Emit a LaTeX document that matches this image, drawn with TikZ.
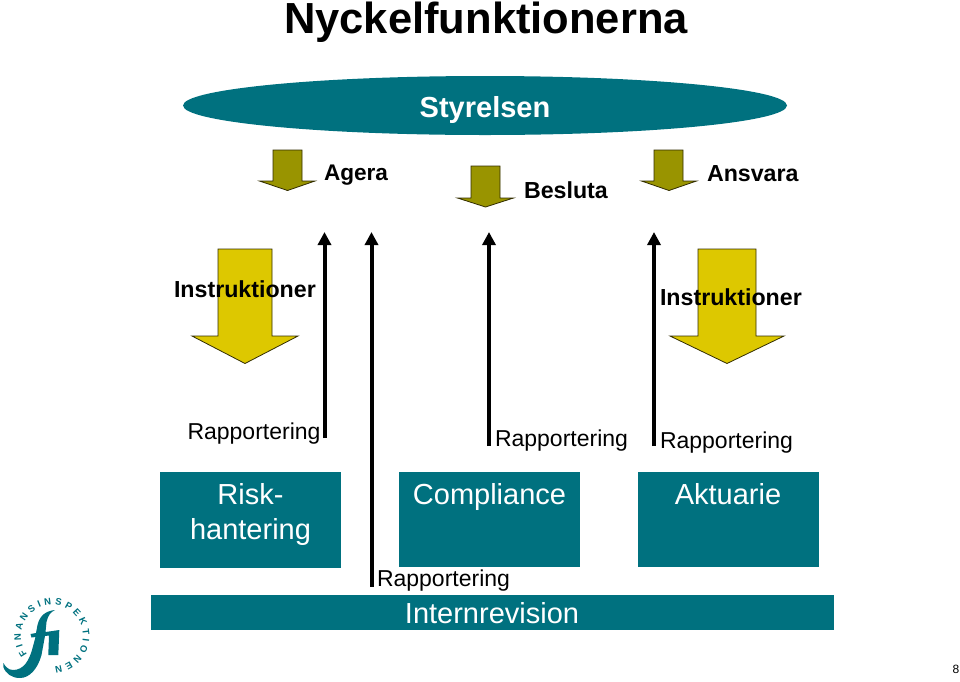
\documentclass[tikz,border=0pt]{standalone}
\usepackage{fontspec}
\setmainfont{Liberation Sans}
\usetikzlibrary{arrows.meta,shapes.geometric,decorations.text}
\definecolor{tealbox}{RGB}{0,113,127}
\definecolor{olivearrow}{RGB}{153,148,0}
\definecolor{yellowarrow}{RGB}{221,200,0}
\definecolor{arrowline}{RGB}{50,45,0}
\tikzset{
  x=1pt,y=-1pt,
  every node/.style={inner sep=0pt,outer sep=0pt},
  txt/.style={anchor=base west,text=black},
  headtxt/.style={txt,font=\fontsize{23.2}{24}\selectfont\bfseries},
  reptxt/.style={txt,font=\fontsize{23}{24}\selectfont},
  boxtxt/.style={anchor=base,text=white,font=\fontsize{29}{30}\selectfont},
  tealrect/.style={fill=tealbox,draw=none},
  oliveblock/.style={fill=olivearrow,draw=arrowline,line width=0.8pt,line join=miter},
  yellowblock/.style={fill=yellowarrow,draw=arrowline,line width=0.8pt,line join=miter},
  reportline/.style={draw=black,line width=4pt,-{Triangle[width=13pt,length=13pt]}},
}
\begin{document}
\begin{tikzpicture}
\useasboundingbox (0,0) rectangle (960,681);
% title and board
\node[anchor=base,font=\fontsize{43.5}{44}\selectfont\bfseries] (title) at (486,33) {Nyckelfunktionerna};
\node[ellipse,fill=tealbox,minimum width=604pt,minimum height=59pt] (board) at (485,105.5) {};
\node[anchor=base,text=white,font=\fontsize{29}{29}\selectfont\bfseries] (boardtxt) at (485,117) {Styrelsen};
% olive arrows
\path[oliveblock] (273,150) -- (302,150) -- (302,181) -- (315,181) -- (287.5,190.5) -- (259.5,181) -- (273,181) -- cycle;
\path[oliveblock] (471,166) -- (500,166) -- (500,198) -- (513.5,198) -- (485.5,207) -- (457.5,198) -- (471,198) -- cycle;
\path[oliveblock] (654,150) -- (683,150) -- (683,181) -- (696.5,181) -- (669,190.5) -- (641.5,181) -- (654,181) -- cycle;
% yellow arrows
\path[yellowblock] (218,249) -- (272,249) -- (272,336) -- (298,336) -- (245,363.5) -- (192,336) -- (218,336) -- cycle;
\path[yellowblock] (698,249) -- (756,249) -- (756,336) -- (784,336) -- (727,363.5) -- (670,336) -- (698,336) -- cycle;
% boxes
\node[tealrect,minimum width=181pt,minimum height=96.5pt] (risk) at (250.5,519.75) {};
\node[tealrect,minimum width=181pt,minimum height=95.5pt] (comp) at (489.5,519.25) {};
\node[tealrect,minimum width=181.5pt,minimum height=95.5pt] (akt) at (728.25,519.25) {};
\node[tealrect,minimum width=683.5pt,minimum height=35pt] (rev) at (492.25,612.5) {};
\node[boxtxt] (risk1) at (250.5,504) {Risk-};
\node[boxtxt] (risk2) at (250.5,539) {hantering};
\node[boxtxt] (comptxt) at (489.5,504) {Compliance};
\node[boxtxt] (akttxt) at (728,504) {Aktuarie};
\node[boxtxt] (revtxt) at (492,623) {Internrevision};
% reporting lines
\coordinate (l1b) at (324.5,438);
\coordinate (l1t) at (324.5,232);
\coordinate (l2b) at (371.5,586.5);
\coordinate (l2t) at (371.5,232);
\coordinate (l3b) at (489,446);
\coordinate (l3t) at (489,232);
\coordinate (l4b) at (654,446);
\coordinate (l4t) at (654,232);
\draw[reportline] (l1b) -- (l1t);
\draw[reportline] (l2b) -- (l2t);
\draw[reportline] (l3b) -- (l3t);
\draw[reportline] (l4b) -- (l4t);
% labels
\node[headtxt,font=\fontsize{22.6}{24}\selectfont\bfseries] (agera) at (324,180) {Agera};
\node[headtxt] (besluta) at (524,198) {Besluta};
\node[headtxt] (ansvara) at (707,181) {Ansvara};
\node[headtxt] (instrl) at (174,297) {Instruktioner};
\node[headtxt] (instrr) at (660,305) {Instruktioner};
\node[reptxt] (rep1) at (187.5,439) {Rapportering};
\node[reptxt] (rep2) at (495,446) {Rapportering};
\node[reptxt] (rep3) at (660,448) {Rapportering};
\node[reptxt] (rep4) at (377,586) {Rapportering};
\node[anchor=base,font=\fontsize{12}{12}\selectfont] (pageno) at (956,673) {8};
% logo
\path[fill=tealbox] (55,610) .. controls (46,611) and (40,615) .. (37.5,625) -- (36,633)
  -- (30.5,634) -- (31.5,637.5) -- (35.5,637)
  -- (32,650) .. controls (29,660) and (24,670) .. (13,670)
  .. controls (8,670) and (5,666) .. (3.5,663) -- (3.3,667)
  .. controls (6,674) and (12,678) .. (20,678)
  .. controls (30,678) and (38,668) .. (41.5,655)
  -- (45,636) -- (49,635.5) -- (48.3,655) -- (58.3,655) -- (59.3,630) -- (45.5,632) -- (46.5,622)
  .. controls (48,615) and (51,612) .. (55,610) -- cycle;
\path[decorate,decoration={text along path,text align=fit to path,
   text={|\fontsize{9.5}{10}\selectfont\bfseries\color{tealbox}|FINANSINSPEKTIONEN}}]
   (27.24,654.66) arc[start angle=217,end angle=-85,radius=31pt];
\end{tikzpicture}
\end{document}
